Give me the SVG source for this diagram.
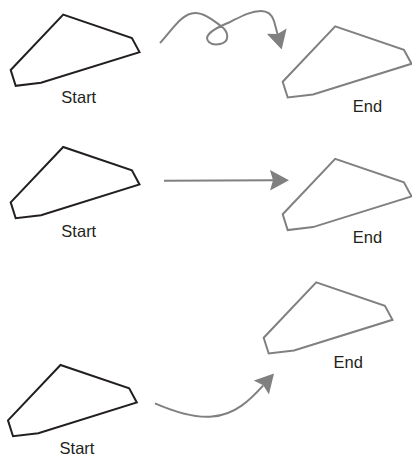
<svg xmlns="http://www.w3.org/2000/svg" width="412" height="460" viewBox="0 0 412 460">
<style>
.shape{fill:none;stroke-width:2;stroke-linejoin:miter}
.start .shape{stroke:#231f20}
.end .shape{stroke:#808080}
.lbl{font-family:"Liberation Sans",Arial,sans-serif;font-size:16.5px;fill:#231f20;text-anchor:middle}
.conn{fill:none;stroke:#808080;stroke-width:2;marker-end:url(#ah)}
</style>
<defs>
<path id="kite" d="M0,0 L52.5,-55.4 L121.2,-32 L128.8,-17.9 L30.3,12.8 L5,15.8 Z"/>
<marker id="ah" markerUnits="userSpaceOnUse" viewBox="0 0 19 20.6" markerWidth="19" markerHeight="20.6" refX="3" refY="10.3" orient="auto">
<path d="M0,0 L19,10.3 L0,20.6 L3,10.3 Z" fill="#808080"/>
</marker>
</defs>
<g id="start1" class="start"><use href="#kite" class="shape" x="10.7" y="70"/><text class="lbl" x="78.8" y="103.3">Start</text></g>
<g id="end1" class="end"><use href="#kite" class="shape" x="282.7" y="81.7"/><text class="lbl" x="367.5" y="111.7">End</text></g>
<g id="start2" class="start"><use href="#kite" class="shape" x="10.7" y="202.4"/><text class="lbl" x="78.8" y="236.7">Start</text></g>
<g id="end2" class="end"><use href="#kite" class="shape" x="282.7" y="214.3"/><text class="lbl" x="367.5" y="243.3">End</text></g>
<g id="start3" class="start"><use href="#kite" class="shape" x="8" y="420.4"/><text class="lbl" x="77" y="454.3">Start</text></g>
<g id="end3" class="end"><use href="#kite" class="shape" x="263.7" y="337.7"/><text class="lbl" x="348.3" y="367.7">End</text></g>
<g id="connectors">
<path class="conn" d="M160,43 C172,30 182,13 195,13 C205,13 214,21 221,26 C229,32 230,42 220,44 C210,46 204,40 209,34 C213,29 221,26 230,22 C240,17 250,11 261,11 C271,11 273,18 274,21 L277.5,34"/>
<path class="conn" d="M164,180.8 L273,180.3"/>
<path class="conn" d="M155,403.3 C175,412 195,418 212,416.5 C235,415 250,400 263.3,385.3"/>
</g>
</svg>
